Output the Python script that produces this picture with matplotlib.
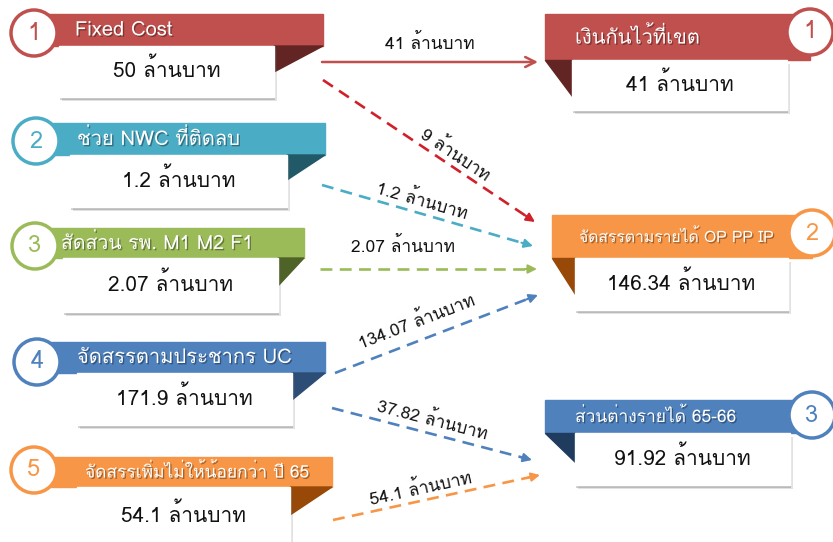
import math
import matplotlib
matplotlib.use("Agg")
import matplotlib.pyplot as plt
import matplotlib.patheffects as pe
from matplotlib.patches import Rectangle, Polygon, Circle

plt.rcParams['font.family'] = ['Loma', 'DejaVu Sans']

# ข้อมูลแหล่งเงิน (ซ้าย) และปลายทาง (ขวา) หน่วย ล้านบาท
sources = ['Fixed Cost', 'ช่วย NWC ที่ติดลบ', 'สัดส่วน รพ. M1 M2 F1',
           'จัดสรรตามประชากร UC', 'จัดสรรเพิ่มไม่ให้น้อยกว่า ปี 65']
source_values = [50, 1.2, 2.07, 171.9, 54.1]
targets = ['เงินกันไว้ที่เขต', 'จัดสรรตามรายได้ OP PP IP', 'ส่วนต่างรายได้ 65-66']
target_values = [41, 146.34, 91.92]

# การไหลของเงิน: ต้นทาง -> ปลายทาง
flow_src = [0, 0, 1, 2, 3, 3, 4]
flow_tgt = [0, 1, 1, 1, 1, 2, 2]
flow_values = [41, 9, 1.2, 2.07, 134.07, 37.82, 54.1]

UNIT = 'ล้านบาท'

# สีของแต่ละกล่อง (สีแถบ, สีพับมุม)
src_colors = [('#C0504D', '#632523'), ('#4BACC6', '#215968'), ('#9BBB59', '#4F6228'),
              ('#4F81BD', '#2C4D75'), ('#F79646', '#984807')]
tgt_colors = [('#C0504D', '#632523'), ('#F79646', '#984807'), ('#4F81BD', '#1F3B5E')]
arrow_colors = ['#C0504D', '#D0202A', '#4BACC6', '#9BBB59', '#4F81BD', '#4F81BD', '#F79646']

# ตำแหน่งบนผืนภาพ (พิกเซล): วงกลม, แถบหัวเรื่อง, กล่องค่า, ความลึกมุมพับ, ขนาดตัวอักษร
src_layout = [
    dict(circle=(34, 33), banner=(45, 14, 323, 46), box=(59, 46, 274, 97), fold=26, tx=75, fs=14.5),
    dict(circle=(36, 141), banner=(45, 123, 325, 155), box=(70, 155, 287, 207), fold=25, tx=77, fs=14.5),
    dict(circle=(35, 246), banner=(45, 228, 304, 258), box=(63, 258, 278, 312), fold=28, tx=61, fs=14),
    dict(circle=(37, 362), banner=(45, 342, 325, 373), box=(77, 373, 292, 425), fold=27, tx=77, fs=14.5),
    dict(circle=(34, 470), banner=(45, 457, 332, 487), box=(77, 487, 290, 545), fold=28, tx=85, fs=12.5),
]
tgt_layout = [
    dict(circle=(810, 32), banner=(545, 14, 810, 60), box=(572, 60, 787, 110), fold=36, tx=575, fs=14.5),
    dict(circle=(812, 233), banner=(552, 215, 812, 258), box=(575, 258, 788, 310), fold=36, tx=579, fs=11.3),
    dict(circle=(812, 415), banner=(545, 400, 812, 433), box=(575, 433, 790, 485), fold=29, tx=575, fs=12.5),
]
# จุดเริ่ม/จุดปลายของลูกศร และตำแหน่งป้าย
flow_layout = [
    dict(start=(322, 62), end=(538, 62), label=(430, 43), solid=True),
    dict(start=(323, 80), end=(535, 222), label=(455, 155)),
    dict(start=(322, 185), end=(533, 246), label=(422, 201)),
    dict(start=(320, 269), end=(537, 269), label=(403, 246)),
    dict(start=(335, 373), end=(538, 295), label=(417, 322)),
    dict(start=(332, 408), end=(532, 460), label=(432, 420)),
    dict(start=(333, 520), end=(540, 475), label=(421, 489)),
]

fig = plt.figure(figsize=(8.33, 5.42), dpi=100)
ax = fig.add_axes([0, 0, 1, 1])
ax.set_xlim(0, 833)
ax.set_ylim(542, 0)
ax.axis('off')

title_fx = [pe.withSimplePatchShadow(offset=(1, -1), shadow_rgbFace='k', alpha=0.35)]


def draw_card(lay, title, value, color, dark, side):
    x0, y0, x1, y1 = lay['banner']
    ax.add_patch(Rectangle((x0, y0), x1 - x0, y1 - y0, color=color, zorder=2))
    bx0, by0, bx1, by1 = lay['box']
    # มุมพับสีเข้ม
    if side == 'left':
        tri = [(bx1, by0), (x1, by0), (bx1, by0 + lay['fold'])]
    else:
        tri = [(x0, by0), (bx0, by0), (bx0, by0 + lay['fold'])]
    ax.add_patch(Polygon(tri, closed=True, color=dark, zorder=2))
    # เงากล่อง
    for off, a in [(4, 0.18), (2.5, 0.3)]:
        ax.add_patch(Rectangle((bx0 + off - 1, by0 + off), bx1 - bx0, by1 - by0,
                               color='#606060', alpha=a, lw=0, zorder=3))
    ax.add_patch(Rectangle((bx0, by0), bx1 - bx0, by1 - by0, color='white', zorder=4))
    ax.text((bx0 + bx1) / 2, (by0 + by1) / 2 - 2, f'{value:g} {UNIT}', fontsize=15,
            ha='center', va='center', color='#111111', zorder=6)
    ax.text(lay['tx'], (y0 + y1) / 2, title, fontsize=lay['fs'], color='white',
            ha='left', va='center', zorder=6, path_effects=title_fx)
    cx, cy = lay['circle']
    ax.add_patch(Circle((cx, cy), 23, facecolor='white', edgecolor=color, lw=2.5, zorder=5))


for i, (t, v) in enumerate(zip(sources, source_values)):
    draw_card(src_layout[i], t, v, *src_colors[i], side='left')
    cx, cy = src_layout[i]['circle']
    ax.text(cx, cy, str(i + 1), fontsize=17, color=src_colors[i][0], ha='center',
            va='center', zorder=6)

for i, (t, v) in enumerate(zip(targets, target_values)):
    draw_card(tgt_layout[i], t, v, *tgt_colors[i], side='right')
    cx, cy = tgt_layout[i]['circle']
    ax.text(cx, cy, str(i + 1), fontsize=17, color=tgt_colors[i][0], ha='center',
            va='center', zorder=6)

# ลูกศรแสดงการโอนเงิน
for k, v in enumerate(flow_values):
    lay = flow_layout[k]
    (sx, sy), (ex, ey) = lay['start'], lay['end']
    col = arrow_colors[k]
    dx, dy = ex - sx, ey - sy
    L = math.hypot(dx, dy)
    ux, uy = dx / L, dy / L
    if lay.get('solid'):
        ax.annotate('', xy=(ex, ey), xytext=(sx, sy),
                    arrowprops=dict(arrowstyle='->', color=col, lw=1.8,
                                    mutation_scale=18, shrinkA=0, shrinkB=0))
    else:
        ax.plot([sx, ex - ux * 8], [sy, ey - uy * 8], color=col, lw=1.9,
                linestyle=(0, (4.5, 2.8)), solid_capstyle='butt', dash_capstyle='butt')
        ax.annotate('', xy=(ex, ey), xytext=(ex - ux * 12, ey - uy * 12),
                    arrowprops=dict(arrowstyle='-|>', color=col, lw=1.5,
                                    mutation_scale=13, shrinkA=0, shrinkB=0))
    ang = -math.degrees(math.atan2(dy, dx))
    ax.text(*lay['label'], f'{v:g} {UNIT}', fontsize=12.5, rotation=ang,
            rotation_mode='anchor', ha='center', va='center', color='#111111')

fig.savefig('out.png', dpi=100)
